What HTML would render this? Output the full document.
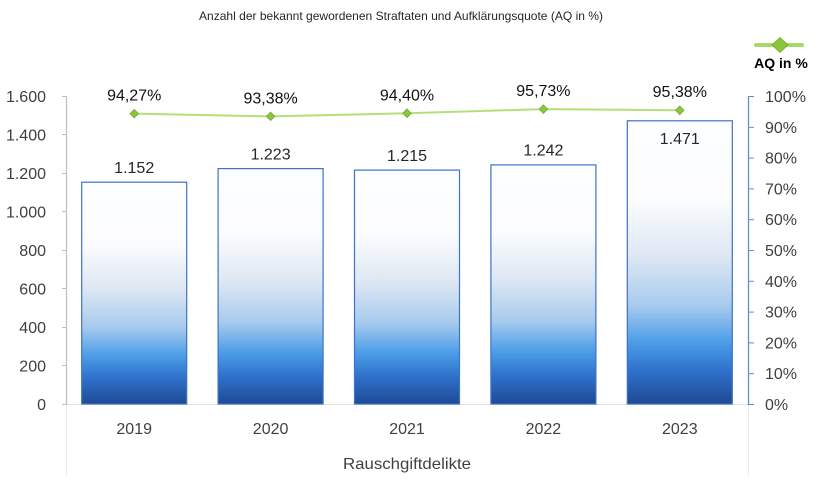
<!DOCTYPE html>
<html><head><meta charset="utf-8"><style>
html,body{margin:0;padding:0;background:#fff;}
svg{display:block;font-family:"Liberation Sans",sans-serif;}
</style></head><body>
<svg width="822" height="484" viewBox="0 0 822 484" xmlns="http://www.w3.org/2000/svg">
<defs>
<linearGradient id="bg" x1="0" y1="0" x2="0" y2="1">
<stop offset="0" stop-color="#fdfeff"/>
<stop offset="0.28" stop-color="#fbfcfe"/>
<stop offset="0.48" stop-color="#dde7f3"/>
<stop offset="0.65" stop-color="#a9cbee"/>
<stop offset="0.78" stop-color="#4d9ee8"/>
<stop offset="0.88" stop-color="#2f72cc"/>
<stop offset="1" stop-color="#1f4a94"/>
</linearGradient>
</defs>
<rect width="822" height="484" fill="#fff"/>
<text x="401" y="20" font-size="12" fill="#262626" text-anchor="middle" textLength="404" lengthAdjust="spacingAndGlyphs">Anzahl der bekannt gewordenen Straftaten und Aufklärungsquote (AQ in %)</text>

<!-- faint frame lines -->
<line x1="66.5" y1="404" x2="66.5" y2="476" stroke="#ececec" stroke-width="1"/>
<line x1="748.5" y1="404" x2="748.5" y2="476" stroke="#ececec" stroke-width="1"/>
<line x1="66" y1="404.5" x2="748" y2="404.5" stroke="#e2e2e2" stroke-width="1"/>

<!-- bars -->
<g stroke="#3d72c4" stroke-width="1.2" fill="url(#bg)">
<rect x="81.7" y="182.2" width="105" height="221.8"/>
<rect x="218.1" y="168.6" width="105" height="235.4"/>
<rect x="354.5" y="170.1" width="105" height="233.9"/>
<rect x="490.9" y="164.9" width="105" height="239.1"/>
<rect x="627.3" y="120.8" width="105" height="283.2"/>
</g>

<!-- left axis -->
<line x1="66.5" y1="96" x2="66.5" y2="404" stroke="#bfbfbf" stroke-width="1.2"/>
<g stroke="#bfbfbf" stroke-width="1">
<line x1="62" y1="96.5" x2="67" y2="96.5"/>
<line x1="62" y1="134.5" x2="67" y2="134.5"/>
<line x1="62" y1="173.5" x2="67" y2="173.5"/>
<line x1="62" y1="211.5" x2="67" y2="211.5"/>
<line x1="62" y1="250.5" x2="67" y2="250.5"/>
<line x1="62" y1="288.5" x2="67" y2="288.5"/>
<line x1="62" y1="327.5" x2="67" y2="327.5"/>
<line x1="62" y1="365.5" x2="67" y2="365.5"/>
<line x1="62" y1="404.5" x2="67" y2="404.5"/>
</g>
<g font-size="16" fill="#404040" text-anchor="end">
<text x="46" y="102">1.600</text>
<text x="46" y="140.5">1.400</text>
<text x="46" y="179">1.200</text>
<text x="46" y="217.5">1.000</text>
<text x="46" y="256">800</text>
<text x="46" y="294.5">600</text>
<text x="46" y="333">400</text>
<text x="46" y="371.5">200</text>
<text x="46" y="410">0</text>
</g>

<!-- right axis -->
<line x1="748.5" y1="96" x2="748.5" y2="404.5" stroke="#5b8fd1" stroke-width="1.3"/>
<g stroke="#5b8fd1" stroke-width="1">
<line x1="748" y1="96.5" x2="754" y2="96.5"/>
<line x1="748" y1="127.3" x2="754" y2="127.3"/>
<line x1="748" y1="158.1" x2="754" y2="158.1"/>
<line x1="748" y1="188.9" x2="754" y2="188.9"/>
<line x1="748" y1="219.7" x2="754" y2="219.7"/>
<line x1="748" y1="250.5" x2="754" y2="250.5"/>
<line x1="748" y1="281.3" x2="754" y2="281.3"/>
<line x1="748" y1="312.1" x2="754" y2="312.1"/>
<line x1="748" y1="342.9" x2="754" y2="342.9"/>
<line x1="748" y1="373.7" x2="754" y2="373.7"/>
<line x1="748" y1="404.5" x2="754" y2="404.5"/>
</g>
<g font-size="16" fill="#404040">
<text x="765" y="102">100%</text>
<text x="765" y="132.8">90%</text>
<text x="765" y="163.6">80%</text>
<text x="765" y="194.4">70%</text>
<text x="765" y="225.2">60%</text>
<text x="765" y="256">50%</text>
<text x="765" y="286.8">40%</text>
<text x="765" y="317.6">30%</text>
<text x="765" y="348.4">20%</text>
<text x="765" y="379.2">10%</text>
<text x="765" y="410">0%</text>
</g>

<!-- bar labels -->
<g font-size="16" fill="#262626" text-anchor="middle">
<text x="134.2" y="173">1.152</text>
<text x="270.6" y="159.3">1.223</text>
<text x="407" y="160.8">1.215</text>
<text x="543.4" y="155.6">1.242</text>
<text x="679.8" y="144">1.471</text>
</g>

<!-- line series -->
<polyline points="134.2,113.65 270.6,116.39 407,113.25 543.4,109.15 679.8,110.23" fill="none" stroke="#b4e07c" stroke-width="2"/>
<g fill="#8cc63f" stroke="#6fa82c" stroke-width="0.8">
<path d="M134.2,109.4 L138.4,113.65 L134.2,117.9 L130,113.65 Z"/>
<path d="M270.6,112.1 L274.8,116.39 L270.6,120.6 L266.4,116.39 Z"/>
<path d="M407,109 L411.2,113.25 L407,117.5 L402.8,113.25 Z"/>
<path d="M543.4,104.9 L547.6,109.15 L543.4,113.4 L539.2,109.15 Z"/>
<path d="M679.8,106 L684,110.23 L679.8,114.5 L675.6,110.23 Z"/>
</g>
<g font-size="16" fill="#111" text-anchor="middle">
<text x="134.2" y="100.7">94,27%</text>
<text x="270.6" y="103.4">93,38%</text>
<text x="407" y="100.3">94,40%</text>
<text x="543.4" y="96.2">95,73%</text>
<text x="679.8" y="97.2">95,38%</text>
</g>

<!-- category labels -->
<g font-size="16" fill="#404040" text-anchor="middle">
<text x="134.2" y="434">2019</text>
<text x="270.6" y="434">2020</text>
<text x="407" y="434">2021</text>
<text x="543.4" y="434">2022</text>
<text x="679.8" y="434">2023</text>
</g>
<text x="407" y="469" font-size="16" fill="#404040" text-anchor="middle" textLength="128" lengthAdjust="spacingAndGlyphs">Rauschgiftdelikte</text>

<!-- legend -->
<line x1="756" y1="45" x2="802" y2="45" stroke="#a6d86a" stroke-width="4" stroke-linecap="round"/>
<path d="M780,37.5 L788,45 L780,52.5 L772,45 Z" fill="#8cc63f" stroke="#6fa82c" stroke-width="0.8"/>
<text x="781" y="68" font-size="14" font-weight="bold" fill="#000" text-anchor="middle">AQ in %</text>
</svg>
</body></html>
